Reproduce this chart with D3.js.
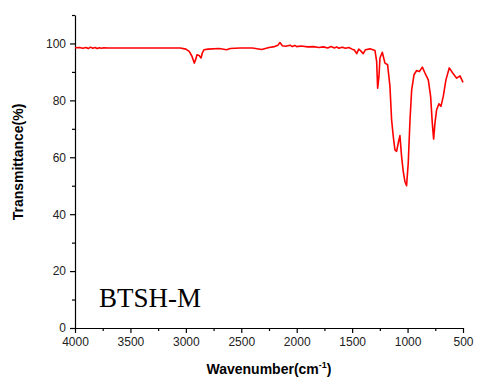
<!DOCTYPE html>
<html>
<head>
<meta charset="utf-8">
<script src="https://cdn.jsdelivr.net/npm/d3@7"></script>
<style>
	body { margin: 0; background: #fff; }
	svg { display: block; }
	.tick text { font-family: "Liberation Sans", Arial, sans-serif; font-size: 12px; fill: #222; }
	.axis-title { font-family: "Liberation Sans", Arial, sans-serif; font-size: 14px; font-weight: bold; fill: #000; }
	.sample-label { font-family: "Liberation Serif", "Times New Roman", serif; font-size: 27px; fill: #000; }
</style>
</head>
<body>
<script>
;( function() {

	"use strict";

	//spectrum
	var wavenumbers = [
		4000, 3960, 3930, 3900, 3880, 3860, 3840, 3820, 3800, 3780, 3760, 3740, 3700, 3600, 3400, 3200, 3050, 3000, 2970,
		2945, 2924, 2910, 2900, 2880, 2863, 2850, 2836, 2800, 2700, 2632, 2600, 2512, 2400, 2316, 2250, 2200, 2170, 2151,
		2130, 2100, 2060, 2040, 2016, 2000, 1960, 1900, 1850, 1800, 1760, 1720, 1690, 1660, 1640, 1620, 1590, 1560, 1530,
		1500, 1480, 1459, 1440, 1420, 1400, 1380, 1339, 1294, 1279, 1270, 1258, 1249, 1228, 1204, 1180, 1159, 1144, 1129,
		1114, 1099, 1084, 1069, 1054, 1039, 1024, 1009, 994, 978, 963, 942, 918, 894, 867, 843, 813, 792, 777, 765, 753,
		738, 717, 699, 678, 654, 624, 593, 557, 527, 500
	];
	var transmittance = [
		98.5, 98.6, 98.3, 98.6, 98.2, 98.7, 98.3, 98.6, 98.2, 98.5, 98.3, 98.5, 98.4, 98.4, 98.4, 98.4, 98.4, 98.0, 97.2,
		95.5, 93.1, 94.5, 96.0, 95.8, 94.9, 96.8, 97.8, 98.0, 98.2, 97.8, 98.2, 98.4, 98.4, 97.9, 98.6, 98.9, 99.4, 100.3,
		99.2, 99.0, 99.4, 98.9, 99.3, 98.9, 99.1, 98.8, 98.9, 98.6, 98.8, 98.4, 98.9, 98.4, 98.8, 98.3, 98.7, 98.3, 98.6,
		98.0, 97.7, 96.4, 98.0, 97.3, 96.4, 97.8, 98.1, 97.5, 93.7, 84.3, 88.4, 94.9, 96.9, 93.1, 92.5, 84.9, 73.2, 67.3,
		62.6, 62.1, 65.0, 67.6, 60.3, 55.0, 51.5, 50.0, 58.0, 73.2, 83.7, 89.0, 90.5, 90.1, 91.7, 89.6, 87.2, 81.4, 72.0, 66.4, 72.0,
		76.7, 78.8, 77.9, 81.4, 87.2, 91.4, 89.6, 87.8, 88.6, 86.3
	];
	var xMajorTicks = [ 4000, 3500, 3000, 2500, 2000, 1500, 1000, 500 ];
	var xMinorTicks = [ 3750, 3250, 2750, 2250, 1750, 1250, 750 ];
	var yMajorTicks = [ 0, 20, 40, 60, 80, 100 ];
	var yMinorTicks = [ 10, 30, 50, 70, 90, 110 ];
	var sampleName = "BTSH-M";

	var width = 477,
		height = 379,
		margin = { top: 15, right: 14, bottom: 51, left: 75 },
		innerWidth = width - margin.left - margin.right,
		innerHeight = height - margin.top - margin.bottom;

	var svg = d3.select( "body" ).append( "svg" )
		.attr( "width", width )
		.attr( "height", height );

	var g = svg.append( "g" )
		.attr( "transform", "translate(" + margin.left + "," + margin.top + ")" );

	//wavenumber runs high to low
	var x = d3.scaleLinear().domain( [ 4000, 500 ] ).range( [ 0, innerWidth ] ),
		y = d3.scaleLinear().domain( [ 0, 110 ] ).range( [ innerHeight, 0 ] );

	//minor ticks first, then the labelled axis on top
	g.append( "g" )
		.attr( "transform", "translate(0," + innerHeight + ")" )
		.call( d3.axisBottom( x ).tickValues( xMinorTicks ).tickSize( 3 ).tickFormat( "" ) )
		.call( function( s ) { s.select( ".domain" ).remove(); } );
	g.append( "g" )
		.call( d3.axisLeft( y ).tickValues( yMinorTicks ).tickSize( 3 ).tickFormat( "" ) )
		.call( function( s ) { s.select( ".domain" ).remove(); } );

	var xAxis = g.append( "g" )
		.attr( "transform", "translate(0," + innerHeight + ")" )
		.call( d3.axisBottom( x ).tickValues( xMajorTicks ).tickSize( 5 ).tickSizeOuter( 0 ).tickPadding( 4 ).tickFormat( d3.format( "d" ) ) );
	var yAxis = g.append( "g" )
		.call( d3.axisLeft( y ).tickValues( yMajorTicks ).tickSize( 5 ).tickSizeOuter( 0 ).tickPadding( 4 ) );

	[ xAxis, yAxis ].forEach( function( a ) {
		a.selectAll( "path, line" ).attr( "stroke", "#000" ).attr( "stroke-width", 1.2 );
	} );
	g.selectAll( ".tick line" ).attr( "stroke", "#000" ).attr( "stroke-width", 1.2 );

	//spectrum line
	var line = d3.line()
		.x( function( d, i ) { return x( wavenumbers[ i ] ); } )
		.y( function( d ) { return y( d ); } );

	g.append( "path" )
		.datum( transmittance )
		.attr( "fill", "none" )
		.attr( "stroke", "#ff0000" )
		.attr( "stroke-width", 1.6 )
		.attr( "stroke-linejoin", "round" )
		.attr( "d", line );

	//sample name
	g.append( "text" )
		.attr( "class", "sample-label" )
		.attr( "x", 24 )
		.attr( "y", y( 7.5 ) )
		.text( sampleName );

	//axis titles
	var xTitle = svg.append( "text" )
		.attr( "class", "axis-title" )
		.attr( "x", 269 )
		.attr( "y", 374 )
		.attr( "text-anchor", "middle" );
	xTitle.append( "tspan" ).text( "Wavenumber(cm" );
	xTitle.append( "tspan" ).attr( "dy", -6 ).style( "font-size", "9px" ).text( "-1" );
	xTitle.append( "tspan" ).attr( "dy", 6 ).text( ")" );

	svg.append( "text" )
		.attr( "class", "axis-title" )
		.attr( "transform", "translate(23,162) rotate(-90)" )
		.attr( "text-anchor", "middle" )
		.text( "Transmittance(%)" );

})();
</script>
</body>
</html>
